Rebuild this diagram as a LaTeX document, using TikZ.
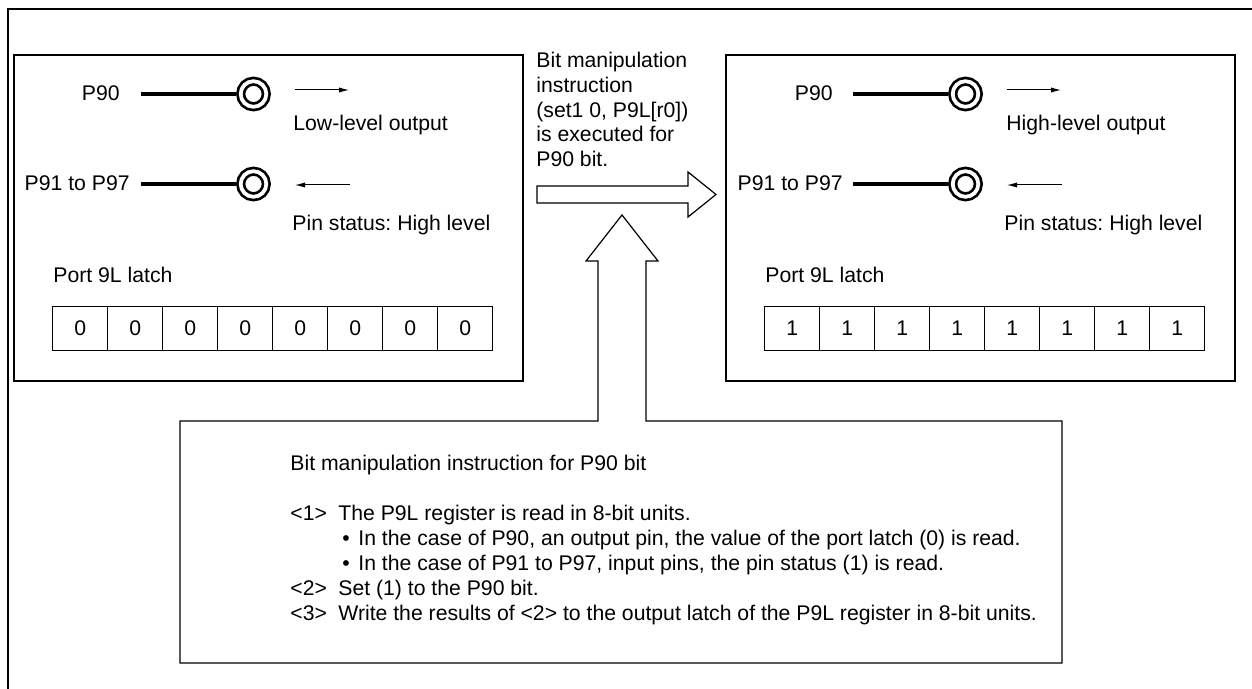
\documentclass[tikz,border=0pt]{standalone}
\usepackage{fontspec}
\setmainfont{Liberation Sans}
\usetikzlibrary{arrows.meta}
\frenchspacing

\begin{document}
\begin{tikzpicture}[
	x=0.5pt,
	y=-0.5pt,
	every node/.style={
		font=\fontsize{10.6}{12.45}\selectfont,
		inner sep=0pt
	},
	panel/.style={draw, line width=1.35pt},
	pin/.style={circle, draw, double, line width=1.35pt, double distance=1.9pt,
		minimum size=12.8pt, outer sep=2.2pt},
	lead/.style={line width=2pt},
	flow/.style={line width=0.5pt, -{Latex[length=5pt,width=2.6pt]}},
	cell/.style={draw, line width=0.5pt, minimum width=27.5pt, minimum height=22pt},
	block/.style={draw, line width=0.6pt}
	]
	\useasboundingbox (0,0) rectangle (1252,689);
	
	% Outer frame (open at right and bottom)
	\draw[line width=1.35pt] (8,689) -- (8,9) -- (1252,9);
	
	% Panels: before and after
	\draw[panel] (14,55) rectangle (523,381);
	\draw[panel] (726,55) rectangle (1235,381);
	
	% Left panel: pins
	\node[anchor=base east] (lt90) at (120,101) {P90};
	\node[anchor=base east] (lt91) at (130,191) {P91 to P97};
	\node[pin] (lp90) at (253.5,94) {};
	\node[pin] (lp91) at (253.5,184) {};
	\coordinate (lw90) at (141,94);
	\coordinate (lw91) at (141,184);
	\draw[lead] (lw90) -- (lp90);
	\draw[lead] (lw91) -- (lp91);
	
	\coordinate (lo1) at (295,90);
	\coordinate (lo2) at (349,90);
	\coordinate (li1) at (350,185);
	\coordinate (li2) at (295,185);
	\draw[flow] (lo1) -- (lo2);
	\draw[flow] (li1) -- (li2);
	\node[anchor=base west] (lout) at (293,131) {Low-level output};
	\node[anchor=base west] (lin) at (292,231) {Pin status: High level};
	
	% Left panel: latch
	\node[anchor=base west] (llatch) at (53,283) {Port 9L latch};
	\node[cell] (l0) at (80.2,328.7) {0};
	\node[cell] (l1) at (135.2,328.7) {0};
	\node[cell] (l2) at (190.2,328.7) {0};
	\node[cell] (l3) at (245.2,328.7) {0};
	\node[cell] (l4) at (300.2,328.7) {0};
	\node[cell] (l5) at (355.2,328.7) {0};
	\node[cell] (l6) at (410.2,328.7) {0};
	\node[cell] (l7) at (465.2,328.7) {0};
	
	% Right panel: pins
	\node[anchor=base east] (rt90) at (833,101) {P90};
	\node[anchor=base east] (rt91) at (843,191) {P91 to P97};
	\node[pin] (rp90) at (965.5,94) {};
	\node[pin] (rp91) at (965.5,184) {};
	\coordinate (rw90) at (853,94);
	\coordinate (rw91) at (853,184);
	\draw[lead] (rw90) -- (rp90);
	\draw[lead] (rw91) -- (rp91);
	
	\coordinate (ro1) at (1007,90);
	\coordinate (ro2) at (1061,90);
	\coordinate (ri1) at (1062,185);
	\coordinate (ri2) at (1007,185);
	\draw[flow] (ro1) -- (ro2);
	\draw[flow] (ri1) -- (ri2);
	\node[anchor=base west] (rout) at (1006,131) {High-level output};
	\node[anchor=base west] (rin) at (1004,231) {Pin status: High level};
	
	% Right panel: latch
	\node[anchor=base west] (rlatch) at (765,283) {Port 9L latch};
	\node[cell] (r0) at (792.2,328.7) {1};
	\node[cell] (r1) at (847.2,328.7) {1};
	\node[cell] (r2) at (902.2,328.7) {1};
	\node[cell] (r3) at (957.2,328.7) {1};
	\node[cell] (r4) at (1012.2,328.7) {1};
	\node[cell] (r5) at (1067.2,328.7) {1};
	\node[cell] (r6) at (1122.2,328.7) {1};
	\node[cell] (r7) at (1177.2,328.7) {1};
	
	% Instruction arrow between panels
	\node[anchor=north west, align=left] (cap) at (536,51.5)
		{Bit manipulation\\instruction\\(set1 0, P9L[r0])\\is executed for\\P90 bit.};
	\draw[block] (537,186) -- (688,186) -- (688,172) -- (716,194.5) -- (688,217)
		-- (688,203) -- (537,203) -- cycle;
	
	% Note box with upward arrow
	\draw[block] (598,421) -- (180,421) -- (180,663) -- (1062,663) -- (1062,421)
		-- (646,421) -- (646,261) -- (658,261) -- (622,215) -- (586,261)
		-- (598,261) -- cycle;
	\node[anchor=north west, align=left] (note) at (290,455)
		{Bit manipulation instruction for P90 bit\\[12.45pt]
		\makebox[24pt][l]{<1>}The P9L register is read in 8-bit units.\\
		\hspace*{26pt}\makebox[8pt][l]{\textbullet}In the case of P90, an output pin, the value of the port latch (0) is read.\\
		\hspace*{26pt}\makebox[8pt][l]{\textbullet}In the case of P91 to P97, input pins, the pin status (1) is read.\\
		\makebox[24pt][l]{<2>}Set (1) to the P90 bit.\\
		\makebox[24pt][l]{<3>}Write the results of <2> to the output latch of the P9L register in 8-bit units.};
	
\end{tikzpicture}
\end{document}
